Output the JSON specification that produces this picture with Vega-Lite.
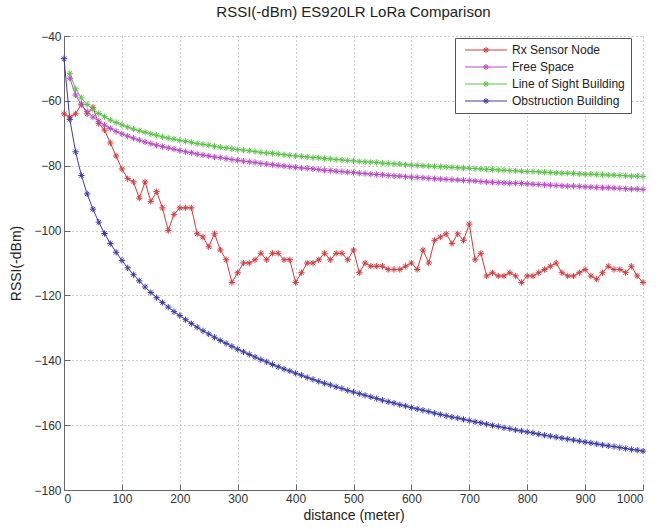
{
  "$schema": "https://vega.github.io/schema/vega-lite/v6.json",
  "autosize": {"type": "none"},
  "padding": {"left": 64, "top": 36, "right": 19, "bottom": 39},
  "width": 579,
  "height": 454,
  "background": "white",
  "title": {
    "text": "RSSI(-dBm) ES920LR LoRa Comparison",
    "font": "Liberation Sans",
    "fontSize": 15,
    "fontWeight": "normal",
    "color": "#222222",
    "anchor": "middle",
    "offset": 10
  },
  "config": {
    "view": {"stroke": null},
    "axis": {
      "labelFont": "Liberation Sans",
      "labelFontSize": 12,
      "labelColor": "#333333",
      "titleFont": "Liberation Sans",
      "titleFontSize": 14,
      "titleFontWeight": "normal",
      "titleColor": "#222222",
      "domainColor": "#666666",
      "tickColor": "#666666",
      "grid": true,
      "gridColor": "#9a9a9a",
      "gridDash": [1, 3],
      "gridWidth": 1
    }
  },
  "data": {
    "values": [
      {"d": 0, "rx": -64, "fs": null, "los": null, "obs": -47},
      {"d": 10, "rx": -65, "fs": -53.0, "los": -51.5, "obs": -65.7},
      {"d": 20, "rx": -64, "fs": -58.2, "los": -56.3, "obs": -75.7},
      {"d": 30, "rx": -61, "fs": -61.2, "los": -59.1, "obs": -83.0},
      {"d": 40, "rx": -64, "fs": -63.3, "los": -61.1, "obs": -88.7},
      {"d": 50, "rx": -62, "fs": -65.0, "los": -62.6, "obs": -93.4},
      {"d": 60, "rx": -67, "fs": -66.3, "los": -63.9, "obs": -97.4},
      {"d": 70, "rx": -69, "fs": -67.5, "los": -64.9, "obs": -100.9},
      {"d": 80, "rx": -73, "fs": -68.5, "los": -65.9, "obs": -104.0},
      {"d": 90, "rx": -77, "fs": -69.4, "los": -66.7, "obs": -106.7},
      {"d": 100, "rx": -81, "fs": -70.2, "los": -67.4, "obs": -109.2},
      {"d": 110, "rx": -84, "fs": -70.9, "los": -68.1, "obs": -111.5},
      {"d": 120, "rx": -85, "fs": -71.5, "los": -68.7, "obs": -113.6},
      {"d": 130, "rx": -90, "fs": -72.1, "los": -69.2, "obs": -115.5},
      {"d": 140, "rx": -85, "fs": -72.7, "los": -69.7, "obs": -117.4},
      {"d": 150, "rx": -91, "fs": -73.2, "los": -70.2, "obs": -119.1},
      {"d": 160, "rx": -88, "fs": -73.7, "los": -70.6, "obs": -120.7},
      {"d": 170, "rx": -93, "fs": -74.1, "los": -71.1, "obs": -122.2},
      {"d": 180, "rx": -100, "fs": -74.5, "los": -71.5, "obs": -123.6},
      {"d": 190, "rx": -95, "fs": -74.9, "los": -71.8, "obs": -125.0},
      {"d": 200, "rx": -93, "fs": -75.3, "los": -72.2, "obs": -126.2},
      {"d": 210, "rx": -93, "fs": -75.7, "los": -72.5, "obs": -127.5},
      {"d": 220, "rx": -93, "fs": -76.0, "los": -72.8, "obs": -128.7},
      {"d": 230, "rx": -101, "fs": -76.4, "los": -73.2, "obs": -129.8},
      {"d": 240, "rx": -102, "fs": -76.7, "los": -73.4, "obs": -130.9},
      {"d": 250, "rx": -105, "fs": -77.0, "los": -73.7, "obs": -131.9},
      {"d": 260, "rx": -101, "fs": -77.3, "los": -74.0, "obs": -132.9},
      {"d": 270, "rx": -106, "fs": -77.5, "los": -74.3, "obs": -133.9},
      {"d": 280, "rx": -109, "fs": -77.8, "los": -74.5, "obs": -134.8},
      {"d": 290, "rx": -116, "fs": -78.1, "los": -74.8, "obs": -135.7},
      {"d": 300, "rx": -113, "fs": -78.3, "los": -75.0, "obs": -136.6},
      {"d": 310, "rx": -110, "fs": -78.6, "los": -75.2, "obs": -137.4},
      {"d": 320, "rx": -110, "fs": -78.8, "los": -75.4, "obs": -138.2},
      {"d": 330, "rx": -109, "fs": -79.0, "los": -75.6, "obs": -139.0},
      {"d": 340, "rx": -107, "fs": -79.3, "los": -75.9, "obs": -139.8},
      {"d": 350, "rx": -109, "fs": -79.5, "los": -76.1, "obs": -140.5},
      {"d": 360, "rx": -107, "fs": -79.7, "los": -76.2, "obs": -141.3},
      {"d": 370, "rx": -107, "fs": -79.9, "los": -76.4, "obs": -142.0},
      {"d": 380, "rx": -109, "fs": -80.1, "los": -76.6, "obs": -142.7},
      {"d": 390, "rx": -109, "fs": -80.3, "los": -76.8, "obs": -143.3},
      {"d": 400, "rx": -116, "fs": -80.5, "los": -77.0, "obs": -144.0},
      {"d": 410, "rx": -113, "fs": -80.7, "los": -77.1, "obs": -144.6},
      {"d": 420, "rx": -110, "fs": -80.8, "los": -77.3, "obs": -145.3},
      {"d": 430, "rx": -110, "fs": -81.0, "los": -77.5, "obs": -145.9},
      {"d": 440, "rx": -109, "fs": -81.2, "los": -77.6, "obs": -146.5},
      {"d": 450, "rx": -107, "fs": -81.4, "los": -77.8, "obs": -147.1},
      {"d": 460, "rx": -109, "fs": -81.5, "los": -77.9, "obs": -147.6},
      {"d": 470, "rx": -107, "fs": -81.7, "los": -78.1, "obs": -148.2},
      {"d": 480, "rx": -107, "fs": -81.8, "los": -78.2, "obs": -148.7},
      {"d": 490, "rx": -109, "fs": -82.0, "los": -78.4, "obs": -149.3},
      {"d": 500, "rx": -106, "fs": -82.1, "los": -78.5, "obs": -149.8},
      {"d": 510, "rx": -113, "fs": -82.3, "los": -78.7, "obs": -150.3},
      {"d": 520, "rx": -110, "fs": -82.4, "los": -78.8, "obs": -150.8},
      {"d": 530, "rx": -111, "fs": -82.6, "los": -78.9, "obs": -151.3},
      {"d": 540, "rx": -111, "fs": -82.7, "los": -79.0, "obs": -151.8},
      {"d": 550, "rx": -111, "fs": -82.8, "los": -79.2, "obs": -152.3},
      {"d": 560, "rx": -112, "fs": -83.0, "los": -79.3, "obs": -152.8},
      {"d": 570, "rx": -112, "fs": -83.1, "los": -79.4, "obs": -153.2},
      {"d": 580, "rx": -112, "fs": -83.2, "los": -79.5, "obs": -153.7},
      {"d": 590, "rx": -111, "fs": -83.4, "los": -79.7, "obs": -154.1},
      {"d": 600, "rx": -110, "fs": -83.5, "los": -79.8, "obs": -154.6},
      {"d": 610, "rx": -112, "fs": -83.6, "los": -79.9, "obs": -155.0},
      {"d": 620, "rx": -106, "fs": -83.7, "los": -80.0, "obs": -155.4},
      {"d": 630, "rx": -110, "fs": -83.9, "los": -80.1, "obs": -155.8},
      {"d": 640, "rx": -103, "fs": -84.0, "los": -80.2, "obs": -156.3},
      {"d": 650, "rx": -102, "fs": -84.1, "los": -80.3, "obs": -156.7},
      {"d": 660, "rx": -101, "fs": -84.2, "los": -80.4, "obs": -157.1},
      {"d": 670, "rx": -104, "fs": -84.3, "los": -80.5, "obs": -157.5},
      {"d": 680, "rx": -101, "fs": -84.4, "los": -80.6, "obs": -157.8},
      {"d": 690, "rx": -103, "fs": -84.5, "los": -80.7, "obs": -158.2},
      {"d": 700, "rx": -98, "fs": -84.6, "los": -80.8, "obs": -158.6},
      {"d": 710, "rx": -109, "fs": -84.7, "los": -80.9, "obs": -159.0},
      {"d": 720, "rx": -107, "fs": -84.9, "los": -81.0, "obs": -159.3},
      {"d": 730, "rx": -114, "fs": -85.0, "los": -81.1, "obs": -159.7},
      {"d": 740, "rx": -113, "fs": -85.1, "los": -81.2, "obs": -160.1},
      {"d": 750, "rx": -114, "fs": -85.2, "los": -81.3, "obs": -160.4},
      {"d": 760, "rx": -114, "fs": -85.3, "los": -81.4, "obs": -160.8},
      {"d": 770, "rx": -113, "fs": -85.4, "los": -81.5, "obs": -161.1},
      {"d": 780, "rx": -114, "fs": -85.4, "los": -81.6, "obs": -161.5},
      {"d": 790, "rx": -116, "fs": -85.5, "los": -81.7, "obs": -161.8},
      {"d": 800, "rx": -114, "fs": -85.6, "los": -81.8, "obs": -162.1},
      {"d": 810, "rx": -114, "fs": -85.7, "los": -81.8, "obs": -162.4},
      {"d": 820, "rx": -113, "fs": -85.8, "los": -81.9, "obs": -162.8},
      {"d": 830, "rx": -112, "fs": -85.9, "los": -82.0, "obs": -163.1},
      {"d": 840, "rx": -111, "fs": -86.0, "los": -82.1, "obs": -163.4},
      {"d": 850, "rx": -110, "fs": -86.1, "los": -82.2, "obs": -163.7},
      {"d": 860, "rx": -113, "fs": -86.2, "los": -82.3, "obs": -164.0},
      {"d": 870, "rx": -114, "fs": -86.3, "los": -82.3, "obs": -164.3},
      {"d": 880, "rx": -114, "fs": -86.3, "los": -82.4, "obs": -164.6},
      {"d": 890, "rx": -113, "fs": -86.4, "los": -82.5, "obs": -164.9},
      {"d": 900, "rx": -112, "fs": -86.5, "los": -82.6, "obs": -165.2},
      {"d": 910, "rx": -114, "fs": -86.6, "los": -82.6, "obs": -165.5},
      {"d": 920, "rx": -115, "fs": -86.7, "los": -82.7, "obs": -165.8},
      {"d": 930, "rx": -113, "fs": -86.8, "los": -82.8, "obs": -166.1},
      {"d": 940, "rx": -111, "fs": -86.8, "los": -82.9, "obs": -166.4},
      {"d": 950, "rx": -112, "fs": -86.9, "los": -82.9, "obs": -166.6},
      {"d": 960, "rx": -112, "fs": -87.0, "los": -83.0, "obs": -166.9},
      {"d": 970, "rx": -113, "fs": -87.1, "los": -83.1, "obs": -167.2},
      {"d": 980, "rx": -111, "fs": -87.2, "los": -83.2, "obs": -167.5},
      {"d": 990, "rx": -114, "fs": -87.2, "los": -83.2, "obs": -167.7},
      {"d": 1000, "rx": -116, "fs": -87.3, "los": -83.3, "obs": -168.0}
    ]
  },
  "transform": [
    {"fold": ["rx", "fs", "los", "obs"], "as": ["series", "rssi"]},
    {"filter": "isValid(datum.rssi)"}
  ],
  "encoding": {
    "x": {
      "field": "d",
      "type": "quantitative",
      "scale": {"domain": [0, 1000], "nice": false, "zero": false},
      "axis": {
        "title": "distance (meter)",
        "format": "d",
        "values": [0, 100, 200, 300, 400, 500, 600, 700, 800, 900, 1000],
        "tickSize": -6,
        "labelPadding": 9,
        "titlePadding": 4
      }
    },
    "y": {
      "field": "rssi",
      "type": "quantitative",
      "scale": {"domain": [-180, -40], "nice": false, "zero": false},
      "axis": {
        "title": "RSSI(-dBm)",
        "format": "d",
        "values": [-180, -160, -140, -120, -100, -80, -60, -40],
        "tickSize": -6,
        "labelPadding": 9,
        "titlePadding": 10
      }
    },
    "color": {
      "field": "series",
      "type": "nominal",
      "scale": {
        "domain": ["rx", "fs", "los", "obs"],
        "range": ["#d23c40", "#b84cc4", "#5cc24a", "#3c3ca8"]
      },
      "legend": {
        "orient": "none",
        "legendX": 391,
        "legendY": 2,
        "title": null,
        "fillColor": "white",
        "strokeColor": "#555555",
        "padding": 6,
        "symbolType": "M-8.4,0L8.4,0M-1.2,0L1.2,0M0,-1.2L0,1.2M-0.85,-0.85L0.85,0.85M-0.85,0.85L0.85,-0.85",
        "symbolSize": 25,
        "symbolStrokeWidth": 1,
        "symbolFillColor": "transparent",
        "symbolOffset": 19,
        "labelOffset": 20,
        "rowPadding": 5,
        "labelFont": "Liberation Sans",
        "labelFontSize": 12,
        "labelColor": "#222222",
        "labelExpr": "{'rx': 'Rx Sensor Node', 'fs': 'Free Space', 'los': 'Line of Sight Building', 'obs': 'Obstruction Building'}[datum.label]"
      }
    }
  },
  "layer": [
    {"mark": {"type": "line", "strokeWidth": 1}},
    {
      "mark": {
        "type": "point",
        "shape": "M-1,0L1,0M0,-1L0,1M-0.7,-0.7L0.7,0.7M-0.7,0.7L0.7,-0.7",
        "filled": false,
        "size": 40,
        "strokeWidth": 1,
        "opacity": 1
      }
    }
  ]
}
